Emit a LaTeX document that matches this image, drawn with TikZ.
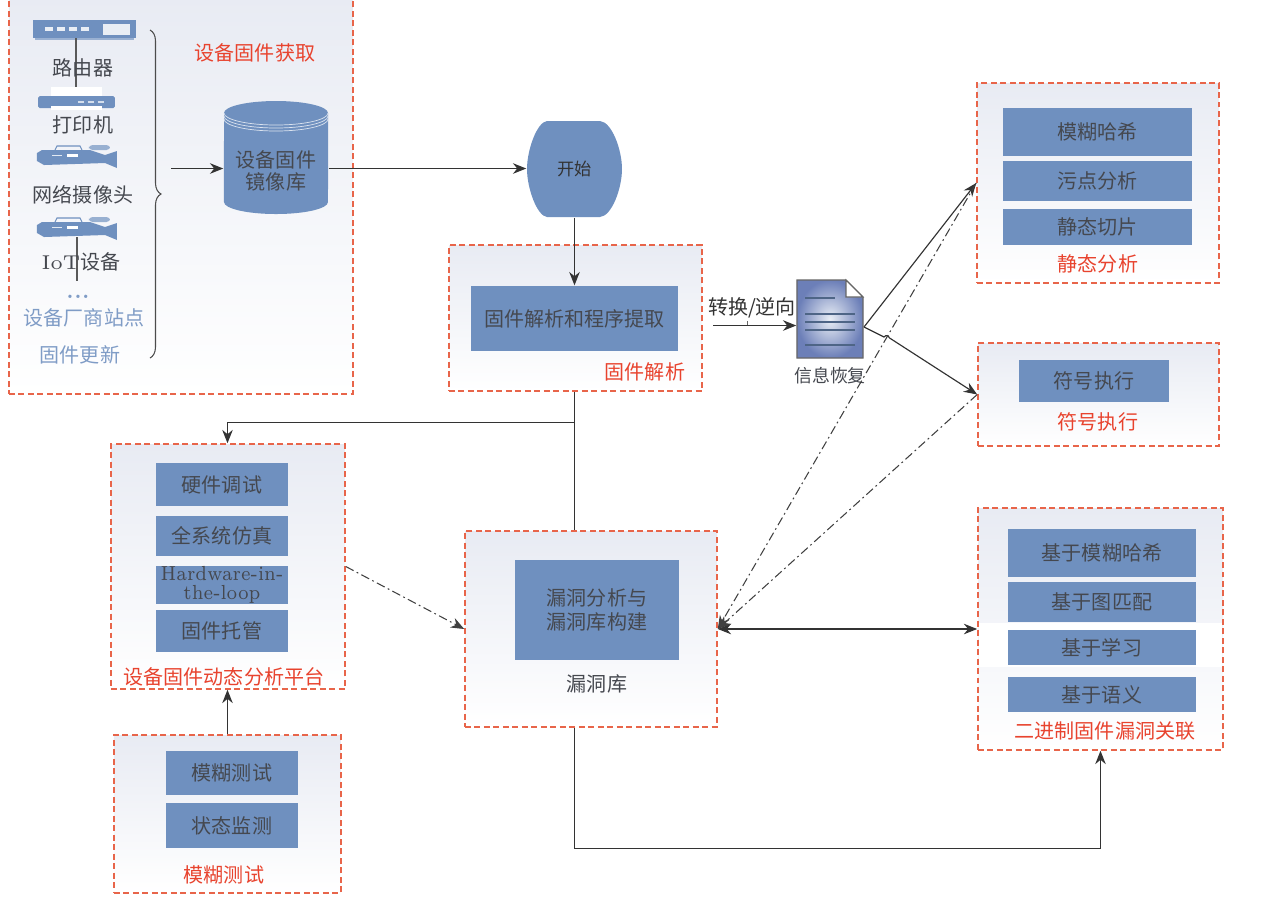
\documentclass[tikz,border=0pt]{standalone}
\usepackage{fontspec}
\usepackage{graphicx}
\usetikzlibrary{arrows.meta,decorations.pathreplacing}
\newfontfamily\cjk{Noto Sans CJK SC}
\definecolor{panelred}{HTML}{E8654A}
\definecolor{titlered}{HTML}{E8432E}
\definecolor{panelblue}{HTML}{E8EBF3}
\definecolor{boxblue}{HTML}{6F90BF}
\definecolor{paleblue}{HTML}{7F9CC6}
\definecolor{docblue}{HTML}{6C7FB8}
\definecolor{inkgray}{HTML}{45484F}
\tikzset{
  panelbox/.style={draw=panelred, line width=0.45pt, dash pattern=on 1.7pt off 1pt, top color=panelblue, bottom color=white, minimum width=#1},
  bluebox/.style={fill=boxblue, inner sep=0pt, text=inkgray, align=center, font=\cjk\fontsize{5.7}{7}\selectfont},
  redlabel/.style={text=titlered, inner sep=0pt, font=\cjk\fontsize{5.7}{7}\selectfont},
  graylabel/.style={text=inkgray, inner sep=0pt, align=center, font=\cjk\fontsize{5.7}{7}\selectfont},
  palelabel/.style={text=paleblue, inner sep=0pt, font=\cjk\fontsize{5.7}{7}\selectfont},
  flow/.style={draw=black!80, line width=0.33pt, -{Stealth[length=3.8pt,width=3pt]}},
  plainflow/.style={draw=black!80, line width=0.33pt},
  dashflow/.style={draw=black!75, line width=0.3pt, dash pattern=on 2.5pt off 1pt on .5pt off 1pt, -{Stealth[length=3.8pt,width=3pt]}},
  camera/.pic={
    \fill[boxblue] (0,-.08) -- (.05,-.05) -- (.53,-.05) -- (.68,-.10) -- (.80,-.06) -- (.80,-.23) -- (.68,-.18) -- (.07,-.20) -- (0,-.16) -- cycle;
    \draw[boxblue, line width=0.3pt] (.18,-.05) -- (.20,-.01) -- (.43,-.01) -- (.45,-.05);
    \fill[paleblue!80, rounded corners=1pt] (.52,0) rectangle (.73,-.05);
    \fill[white] (.30,-.09) rectangle (.41,-.12);
    \fill[white!80!boxblue] (.15,-.10) rectangle (.25,-.11);
  }
}
\begin{document}
\begin{tikzpicture}
  \useasboundingbox (0,0) rectangle (12.86,-9.05);
  % Paneles de fondo
  \node[panelbox=3.44cm, minimum height=3.98cm] (acquirepanel) at (1.81,-1.95) {};
  \node[panelbox=2.53cm, minimum height=1.46cm] (parsepanel) at (5.755,-3.18) {};
  \node[panelbox=2.34cm, minimum height=2.45cm] (dynpanel) at (2.28,-5.665) {};
  \node[panelbox=2.27cm, minimum height=1.58cm] (fuzzpanel) at (2.275,-8.14) {};
  \node[panelbox=2.52cm, minimum height=1.96cm] (vulnpanel) at (5.91,-6.29) {};
  \node[panelbox=2.42cm, minimum height=2.00cm] (staticpanel) at (10.98,-1.83) {};
  \node[panelbox=2.41cm, minimum height=1.03cm] (sympanel) at (10.985,-3.945) {};
  \node[panelbox=2.45cm, minimum height=2.42cm] (assocpanel) at (11.005,-6.29) {};
  \fill[white] (9.79,-6.23) rectangle (12.22,-6.67);

  % Iconos de dispositivos
  \fill[boxblue!70!white] (.35,-.38) rectangle (1.34,-.40);
  \fill[boxblue] (.33,-.20) rectangle (1.36,-.38);
  \fill[white!85!boxblue] (1.03,-.24) rectangle (1.30,-.35);
  \foreach \x in {.45,.57,.69,.81} \fill[white!85!boxblue] (\x,-.27) rectangle ++(.08,-.04);
  \fill[white] (.51,-.87) rectangle (1.02,-.97);
  \fill[boxblue, rounded corners=.5pt] (.38,-.96) rectangle (1.15,-1.08);
  \fill[white] (.51,-1.06) rectangle (1.02,-1.10);
  \foreach \x in {.78,.88,.98} \fill[white!70!boxblue] (\x,-1.01) rectangle ++(.06,-.02);
  \pic at (.37,-1.45) {camera};
  \pic at (.37,-2.17) {camera};
  \draw[black!65, line width=0.35pt] (.76,-.38) -- (.76,-.87);
  \draw[black!65, line width=0.35pt] (.77,-2.37) -- (.77,-2.81);

  % Textos de dispositivos
  \node[graylabel] (routertext) at (.83,-.68) {路由器};
  \node[graylabel] (printertext) at (.83,-1.25) {打印机};
  \node[graylabel] (webcamtext) at (.83,-1.95) {网络摄像头};
  \node[graylabel] (iottext) at (.81,-2.62) {{\rmfamily IoT}设备};
  \node[palelabel] (dotstext) at (.78,-2.97) {\rmfamily\bfseries...};
  \node[palelabel] (vendortext) at (.84,-3.18) {设备厂商站点};
  \node[palelabel] (updatetext) at (.80,-3.55) {固件更新};
  \node[redlabel] (acquiretext) at (2.55,-.53) {设备固件获取};
  \draw[black!70, line width=0.3pt, decorate, decoration={brace, amplitude=.11cm}] (1.50,-.30) -- (1.50,-3.58);

  % Base de imagenes
  \node[inner sep=0pt, minimum width=1.04cm, minimum height=1.13cm] (imagedb) at (2.76,-1.575) {};
  \fill[boxblue] (2.24,-1.13) arc (180:0:.52 and .12) -- (3.28,-2.02) arc (360:180:.52 and .12) -- cycle;
  \draw[white!75!boxblue, line width=0.2pt] (2.24,-1.13) arc (180:360:.52 and .12);
  \draw[white!75!boxblue, line width=0.2pt] (2.24,-1.16) arc (180:360:.52 and .12);
  \draw[white!75!boxblue, line width=0.2pt] (2.24,-1.19) arc (180:360:.52 and .12);
  \node[graylabel, font=\cjk\fontsize{5.7}{6.3}\selectfont] (imagedbtext) at (2.76,-1.71) {设备固件\\镜像库};

  % Inicio y analisis
  \node[inner sep=0pt, minimum width=.95cm, minimum height=.96cm] (start) at (5.745,-1.69) {};
  \fill[boxblue] (5.47,-1.21) -- (6.00,-1.21) .. controls (6.12,-1.22) and (6.22,-1.50) .. (6.22,-1.69) .. controls (6.22,-1.88) and (6.12,-2.16) .. (6.00,-2.17) -- (5.47,-2.17) .. controls (5.37,-2.16) and (5.27,-1.88) .. (5.27,-1.69) .. controls (5.27,-1.50) and (5.37,-1.22) .. (5.47,-1.21) -- cycle;
  \node[text=black!80, inner sep=0pt, font=\cjk\fontsize{4.9}{6}\selectfont] (starttext) at (start) {开始};
  \node[bluebox, minimum width=2.07cm, minimum height=.65cm] (parsebox) at (5.745,-3.185) {固件解析和程序提取};
  \node[redlabel] (parsetext) at (6.45,-3.72) {固件解析};

  % Documento de recuperacion
  \node[inner sep=0pt, minimum width=.66cm, minimum height=.78cm] (infodoc) at (8.30,-3.19) {};
  \draw[black!60, line width=0.35pt, inner color=white!85!boxblue, outer color=docblue] (7.97,-2.80) -- (8.46,-2.80) -- (8.63,-2.97) -- (8.63,-3.58) -- (7.97,-3.58) -- cycle;
  \draw[black!60, fill=white, line width=0.3pt] (8.46,-2.80) -- (8.46,-2.97) -- (8.63,-2.97) -- cycle;
  \draw[boxblue!70!black, line width=0.3pt] (8.05,-2.98) -- (8.35,-2.98);
  \foreach \y in {-3.14,-3.22,-3.30,-3.45} \draw[boxblue!70!black, line width=0.3pt] (8.05,\y) -- (8.55,\y);
  \node[graylabel, font=\cjk\fontsize{5.1}{6}\selectfont] (infotext) at (8.30,-3.76) {信息恢复};
  \node[graylabel, text=black!80] (reversetext) at (7.52,-3.08) {转换/逆向};
  \coordinate (reversein) at (7.13,-3.255);
  \coordinate (docout) at (8.64,-3.27);
  \draw[black!60, line width=0.2pt] (7.47,-3.25) -- (7.47,-3.21);

  % Analisis estatico
  \node[bluebox, minimum width=1.89cm, minimum height=.48cm] (fuzzyhash) at (10.975,-1.32) {模糊哈希};
  \node[bluebox, minimum width=1.89cm, minimum height=.40cm] (taintbox) at (10.975,-1.81) {污点分析};
  \node[bluebox, minimum width=1.89cm, minimum height=.36cm] (slicebox) at (10.975,-2.27) {静态切片};
  \node[redlabel] (statictext) at (10.98,-2.64) {静态分析};

  % Ejecucion simbolica
  \node[bluebox, minimum width=1.50cm, minimum height=.42cm] (symbox) at (10.94,-3.81) {符号执行};
  \node[redlabel] (symtext) at (10.98,-4.22) {符号执行};

  % Plataforma dinamica
  \node[bluebox, minimum width=1.32cm, minimum height=.43cm] (hwdebug) at (2.22,-4.845) {硬件调试};
  \node[bluebox, minimum width=1.32cm, minimum height=.40cm] (fullsim) at (2.22,-5.36) {全系统仿真};
  \node[bluebox, minimum width=1.32cm, minimum height=.38cm, font=\rmfamily\fontsize{5.8}{5.6}\selectfont] (hilbox) at (2.22,-5.85) {\scalebox{.86}[1]{Hardware-in-}\\\scalebox{.86}[1]{the-loop}};
  \node[bluebox, minimum width=1.32cm, minimum height=.42cm] (hostbox) at (2.22,-6.31) {固件托管};
  \node[redlabel] (dyntext) at (2.24,-6.77) {设备固件动态分析平台};

  % Pruebas difusas
  \node[bluebox, minimum width=1.32cm, minimum height=.44cm] (fuzzbox) at (2.32,-7.73) {模糊测试};
  \node[bluebox, minimum width=1.32cm, minimum height=.45cm] (monitorbox) at (2.32,-8.255) {状态监测};
  \node[redlabel] (fuzztext) at (2.24,-8.75) {模糊测试};

  % Biblioteca de vulnerabilidades
  \node[bluebox, minimum width=1.64cm, minimum height=1.00cm] (vulnbox) at (5.97,-6.10) {漏洞分析与\\漏洞库构建};
  \node[graylabel] (vulntext) at (5.97,-6.84) {漏洞库};

  % Asociacion binaria
  \node[bluebox, minimum width=1.88cm, minimum height=.48cm] (assocfuzzy) at (11.02,-5.53) {基于模糊哈希};
  \node[bluebox, minimum width=1.88cm, minimum height=.40cm] (assocgraph) at (11.02,-6.02) {基于图匹配};
  \node[bluebox, minimum width=1.88cm, minimum height=.35cm] (assoclearn) at (11.02,-6.475) {基于学习};
  \node[bluebox, minimum width=1.88cm, minimum height=.35cm] (assocsem) at (11.02,-6.945) {基于语义};
  \node[redlabel] (assoctext) at (11.05,-7.31) {二进制固件漏洞关联};

  % Conexiones
  \coordinate (bracein) at (1.71,-1.685);
  \coordinate (branch) at (5.745,-4.225);
  \coordinate (loopcorner) at (5.745,-8.485);
  \draw[flow] (bracein) -- (imagedb.west |- bracein);
  \draw[flow] (imagedb.east |- bracein) -- (start.west |- bracein);
  \draw[flow] (start) -- (parsebox);
  \draw[plainflow] (start |- parsepanel.south) -- (start |- vulnpanel.north);
  \draw[flow] (branch) -| (dynpanel.north -| fuzzpanel.north);
  \draw[flow] (reversein) -- (infodoc.west |- reversein);
  \draw[flow] (docout) -- (staticpanel.west);
  \draw[flow] (docout) -- (8.84,-3.37) arc (150:10:.03) -- (sympanel.west);
  \draw[dashflow] (staticpanel.west) -- (vulnpanel.east);
  \draw[dashflow] (sympanel.west) -- (vulnpanel.east);
  \draw[dashflow] (dynpanel.east) -- (vulnpanel.west);
  \draw[flow, {Stealth[length=3.8pt,width=3pt]}-{Stealth[length=3.8pt,width=3pt]}] (vulnpanel.east) -- (assocpanel.west);
  \draw[flow] (fuzzpanel.north) -- (dynpanel.south -| fuzzpanel.north);
  \draw[flow] (loopcorner |- vulnpanel.south) -- (loopcorner) -| (assocpanel.south);
\end{tikzpicture}
\end{document}
